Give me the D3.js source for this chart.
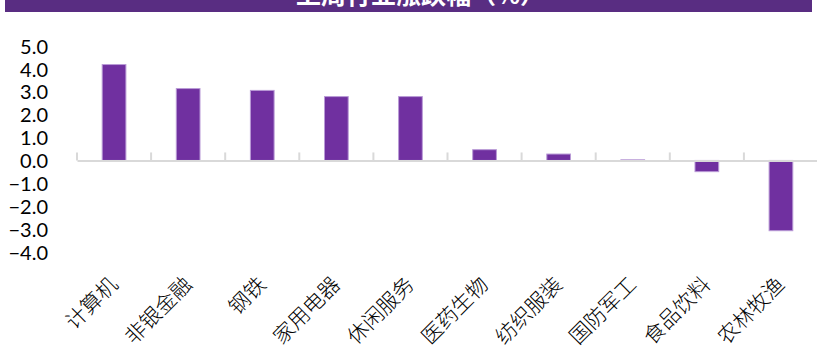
<!DOCTYPE html>
<html>
<head>
<meta charset="utf-8">
<script src="https://cdn.jsdelivr.net/npm/d3@7/dist/d3.min.js"></script>
<style>
  html, body { margin: 0; padding: 0; background: #ffffff; }
  svg { display: block; }
</style>
</head>
<body>
<div id="chart"></div>
<script>
// Weekly change by industry (%)
const titleText = "上周行业涨跌幅（%）";
const categories = ["计算机", "非银金融", "钢铁", "家用电器", "休闲服务", "医药生物", "纺织服装", "国防军工", "食品饮料", "农林牧渔"];
const values = [4.19, 3.14, 3.06, 2.79, 2.79, 0.47, 0.28, 0.03, -0.49, -3.07];
const yTicks = [5, 4, 3, 2, 1, 0, -1, -2, -3, -4];

const W = 817, H = 352;
const svg = d3.select("#chart").append("svg")
  .attr("width", W).attr("height", H);

// Title banner (heading runs past the top edge of the page)
svg.append("rect")
  .attr("x", 5).attr("y", 0)
  .attr("width", 807).attr("height", 12)
  .attr("fill", "#592d82");
svg.append("text")
  .attr("x", 296).attr("y", 4)
  .attr("fill", "#ffffff")
  .attr("font-family", "'Noto Sans CJK SC', sans-serif")
  .attr("font-weight", "bold")
  .attr("font-size", 25)
  .text(titleText);

const x = d3.scaleBand().domain(categories).range([77, 818]).padding(0);
const y = d3.scaleLinear().domain([-4, 5]).range([252, 46]);
const y0 = y(0);

// Y axis: labels only
const yAxis = d3.axisLeft(y).tickValues(yTicks).tickFormat(d3.format(".1f")).tickSize(0).tickPadding(0);
const gy = svg.append("g").attr("transform", "translate(48,0)").call(yAxis);
gy.select(".domain").remove();
gy.selectAll("text")
  .attr("fill", "#000000")
  .attr("font-family", "Lato, 'Open Sans', sans-serif")
  .attr("font-size", 20)
  .attr("dy", "0.36em");

// Bars
const barW = x.bandwidth() * 0.32;
svg.append("g").selectAll("rect").data(values).join("rect")
  .attr("x", (d, i) => x(categories[i]) + (x.bandwidth() - barW) / 2)
  .attr("y", d => d >= 0 ? y(d) : y0)
  .attr("width", barW)
  .attr("height", d => Math.max(Math.abs(y(d) - y0), 1))
  .attr("fill", d => Math.abs(d) < 0.1 ? "#d9c8ea" : "#7030a0")
  .attr("stroke", "#b99ad6")
  .attr("stroke-width", 1);

// Category axis along zero with upward ticks at band edges
const xAxis = d3.axisBottom(x).tickSize(0).tickFormat("");
const gx = svg.append("g").attr("transform", `translate(0,${y0})`).call(xAxis);
gx.select(".domain").attr("stroke", "#d9d9d9").attr("stroke-width", 2);
gx.selectAll(".tick").remove();
const edges = categories.map(c => x(c));
gx.selectAll("line.edge").data(edges).join("line")
  .attr("class", "edge")
  .attr("x1", d => d).attr("x2", d => d)
  .attr("y1", 0).attr("y2", -8)
  .attr("stroke", "#d9d9d9").attr("stroke-width", 2);

// Rotated category labels
svg.append("g").selectAll("text").data(categories).join("text")
  .attr("transform", d => `translate(${x(d) + x.bandwidth() / 2 + 5},286) rotate(-45)`)
  .attr("text-anchor", "end")
  .attr("fill", "#000000")
  .attr("font-family", "'Noto Sans CJK SC', sans-serif")
  .attr("font-weight", 300)
  .attr("font-size", 21)
  .text(d => d);
</script>
</body>
</html>
